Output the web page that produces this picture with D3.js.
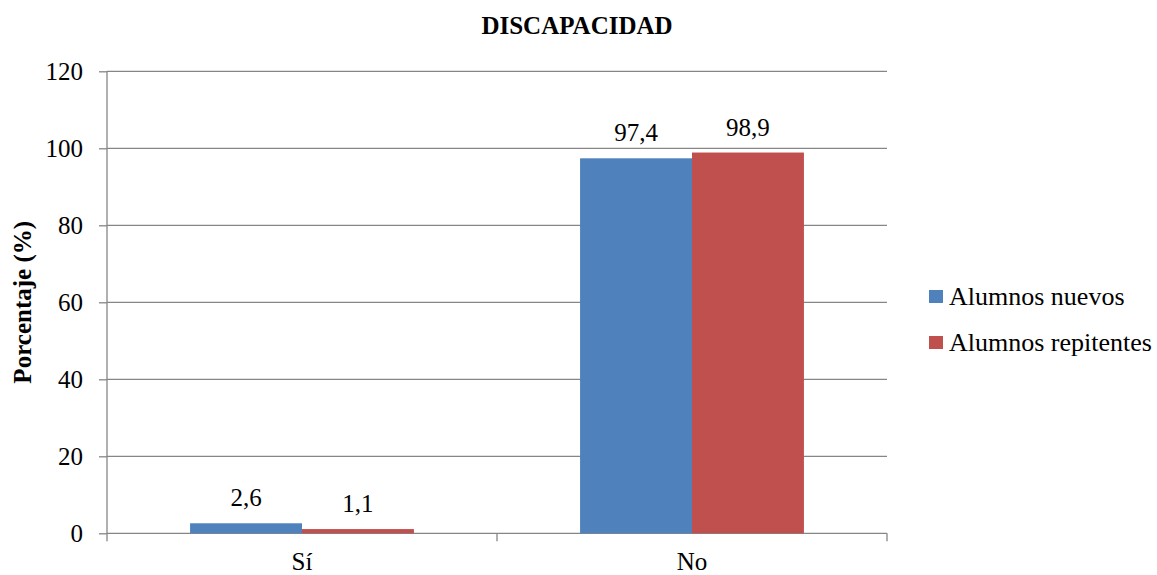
<!DOCTYPE html>
<html>
<head>
  <meta charset="UTF-8">
  <title>Discapacidad</title>
  <style>
    html, body {
      background: #fff;
      margin: 0px;
      overflow: hidden;
    }
  </style>
</head>
<body>
<div id="container"></div>

<script src="https://cdnjs.cloudflare.com/ajax/libs/d3/7.8.5/d3.min.js"></script>
<script>

  var categories = ['Sí', 'No'];
  var seriesNames = ['Alumnos nuevos', 'Alumnos repitentes'];
  var nuevos = [2.6, 97.4];
  var repitentes = [1.1, 98.9];
  var yTicks = [0, 20, 40, 60, 80, 100, 120];
  var colors = ['#4f81bd', '#c0504d'];

  var FONT = '"Liberation Serif"';

  var width = 1157, height = 575;
  var margin = {left: 107, right: 270, top: 71.3, bottom: 41.7};
  var plotW = width - margin.left - margin.right;   // 780
  var plotH = height - margin.top - margin.bottom;  // 462

  var svg = d3.select('#container').append('svg')
    .attr('width', width)
    .attr('height', height);

  var rows = categories.map(function (c, i) {
    return {cat: c, values: [nuevos[i], repitentes[i]]};
  });

  // one band per category, no padding: ticks sit on band edges
  var x0 = d3.scaleBand()
    .domain(categories)
    .range([0, plotW]);

  // bars fill ~57% of each category band, centred
  var gap = x0.bandwidth() * 0.213;
  var x1 = d3.scaleBand()
    .domain(d3.range(seriesNames.length))
    .range([gap, x0.bandwidth() - gap]);

  var y = d3.scaleLinear()
    .domain([0, 120])
    .range([plotH, 0]);

  var g = svg.append('g')
    .attr('transform', 'translate(' + margin.left + ',' + margin.top + ')');

  // gridlines
  g.selectAll('line.grid')
    .data(yTicks)
    .enter().append('line')
    .attr('class', 'grid')
    .attr('x1', 0).attr('x2', plotW)
    .attr('y1', d => y(d)).attr('y2', d => y(d))
    .style('stroke', '#868686')
    .style('stroke-width', 1.3);

  // bars
  var groups = g.selectAll('g.cat')
    .data(rows)
    .enter().append('g')
    .attr('class', 'cat')
    .attr('transform', d => 'translate(' + x0(d.cat) + ',0)');

  groups.selectAll('rect')
    .data(d => d.values.map((v, i) => ({v: v, i: i})))
    .enter().append('rect')
    .attr('x', d => x1(d.i))
    .attr('width', x1.bandwidth())
    .attr('y', d => y(d.v))
    .attr('height', d => plotH - y(d.v))
    .style('fill', d => colors[d.i]);

  groups.selectAll('text.val')
    .data(d => d.values.map((v, i) => ({v: v, i: i})))
    .enter().append('text')
    .attr('class', 'val')
    .attr('x', d => x1(d.i) + x1.bandwidth() / 2)
    .attr('y', d => y(d.v) - 17)
    .attr('text-anchor', 'middle')
    .attr('style', 'font-family:' + FONT + ';font-size:25px')
    .text(d => d3.format('.1f')(d.v).replace('.', ','));

  // y axis
  var yAxis = d3.axisLeft(y)
    .tickValues(yTicks)
    .tickSize(8)
    .tickPadding(16);

  var ya = g.append('g').call(yAxis).attr('font-family', FONT);
  ya.select('.domain').remove();
  ya.selectAll('line').style('stroke', '#868686').style('stroke-width', 1.3);
  ya.selectAll('text')
    .attr('style', 'font-family:' + FONT + ';font-size:25px;fill:#000');
  g.append('line')
    .attr('x1', 0).attr('x2', 0)
    .attr('y1', 0).attr('y2', plotH)
    .style('stroke', '#868686')
    .style('stroke-width', 1.3);

  // x axis: ticks at category boundaries
  var xa = g.append('g').attr('transform', 'translate(0,' + plotH + ')');
  var boundaries = categories.map(c => x0(c)).concat([plotW]);
  xa.selectAll('line')
    .data(boundaries)
    .enter().append('line')
    .attr('x1', d => d).attr('x2', d => d)
    .attr('y1', 0).attr('y2', 8)
    .style('stroke', '#868686')
    .style('stroke-width', 1.3);
  xa.selectAll('text')
    .data(categories)
    .enter().append('text')
    .attr('x', d => x0(d) + x0.bandwidth() / 2)
    .attr('y', 37)
    .attr('text-anchor', 'middle')
    .attr('style', 'font-family:' + FONT + ';font-size:25px')
    .text(d => d);

  // title
  svg.append('text')
    .attr('x', 577)
    .attr('y', 34)
    .attr('text-anchor', 'middle')
    .attr('style', 'font-family:' + FONT + ';font-size:25px;font-weight:bold')
    .text('DISCAPACIDAD');

  // y title
  svg.append('text')
    .attr('transform', 'translate(31,' + (margin.top + plotH / 2) + ') rotate(-90)')
    .attr('text-anchor', 'middle')
    .attr('style', 'font-family:' + FONT + ';font-size:25px;font-weight:bold')
    .text('Porcentaje (%)');

  // legend
  var legend = svg.append('g').attr('transform', 'translate(929,290)');
  var li = legend.selectAll('g')
    .data(seriesNames)
    .enter().append('g')
    .attr('transform', (d, i) => 'translate(0,' + i * 46 + ')');
  li.append('rect')
    .attr('width', 14).attr('height', 13)
    .style('fill', (d, i) => colors[i]);
  li.append('text')
    .attr('x', 20)
    .attr('y', 15)
    .attr('style', 'font-family:' + FONT + ';font-size:26px')
    .text(d => d);

</script>
</body>
</html>
